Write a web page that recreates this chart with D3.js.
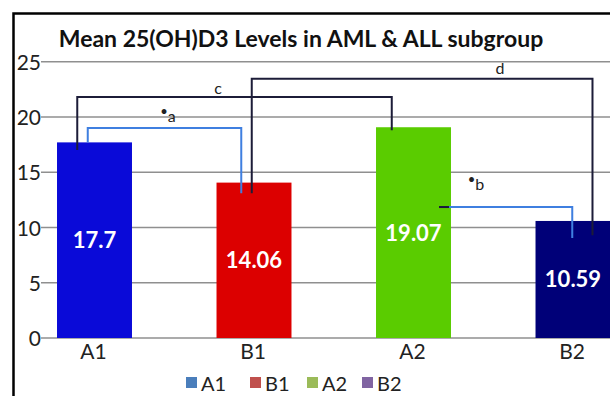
<!DOCTYPE html>
<html><head><meta charset="utf-8">
<script src="https://cdn.jsdelivr.net/npm/d3@7"></script>
<style>
html,body{margin:0;padding:0;background:#fff;}
svg{display:block;}
text{font-family:Lato,"Open Sans",sans-serif;}
</style></head>
<body>
<script>
const title = "Mean 25(OH)D3 Levels in AML & ALL subgroup";
const categories = ["A1","B1","A2","B2"];
const values = [17.7, 14.06, 19.07, 10.59];
const barColors = ["#0a0ad8","#dc0000","#5acc00","#000078"];
const legendColors = ["#4a7ebb","#c0504d","#9bbb59","#8064a2"];
const yTicks = [0,5,10,15,20,25];
// significance brackets: from category (fraction across band, end value) to category, at level
const brFrom   = ["A1","A1","B1","A2"];
const brFromX  = [0.41,0.27,0.47,0.84];
const brFromY  = [17.7,17.0,13.1,11.85];
const brTo     = ["B1","A2","B2","B2"];
const brToX    = [0.33,0.21,0.76,0.49];
const brToY    = [13.1,18.8,9.3,9.05];
const brLevel  = [19.0,21.8,23.45,11.85];
const brLabel  = ["a","c","d","b"];
const brStar   = [true,false,false,true];
const brColor  = ["#3f7fe0","#1c1c38","#1c1c38","#3f7fe0"];

const W=610,H=396;
const svg=d3.select("body").append("svg").attr("width",W).attr("height",H);

const x=d3.scaleBand().domain(categories).range([14.75,652.75]).paddingInner(0.53).paddingOuter(0.265);
const y=d3.scaleLinear().domain([0,25]).range([338,61.7]);

// frame
svg.append("path").attr("d","M13.5,400 V13.5 H620").attr("fill","none").attr("stroke","#000").attr("stroke-width",2.5);

// title
svg.append("text").attr("x",301).attr("y",47).attr("text-anchor","middle")
  .attr("font-size",23).attr("font-weight",700).attr("fill","#111").text(title);

// grid + y axis labels
const yAxis=d3.axisLeft(y).tickValues(yTicks).tickSize(0).tickPadding(2);
const yg=svg.append("g").attr("transform","translate(43,0)").call(yAxis);
yg.select(".domain").remove();
yg.selectAll("text").attr("font-size",21).attr("fill","#222").attr("font-family","Lato,sans-serif").attr("dy","0.36em");
svg.append("g").selectAll("line").data(yTicks).join("line")
  .attr("x1",41).attr("x2",W).attr("y1",d=>y(d)).attr("y2",d=>y(d))
  .attr("stroke","#8f8f8f").attr("stroke-width",1.6);

// bars
svg.append("g").selectAll("rect").data(values).join("rect")
  .attr("x",(d,i)=>x(categories[i])).attr("width",x.bandwidth())
  .attr("y",d=>y(d)).attr("height",d=>y(0)-y(d))
  .attr("fill",(d,i)=>barColors[i]);

// value labels
svg.append("g").selectAll("text").data(values).join("text")
  .attr("x",(d,i)=>x(categories[i])+x.bandwidth()/2)
  .attr("y",d=>y(d/2)).attr("dy","0.36em").attr("text-anchor","middle")
  .attr("font-size",22).attr("font-weight",700).attr("fill","#fff").text(d=>d);

// category axis labels
const xAxis=d3.axisBottom(x).tickSize(0).tickPadding(6);
const xg=svg.append("g").attr("transform",`translate(-1,${y(0)})`).call(xAxis);
xg.select(".domain").remove();
xg.selectAll("text").attr("font-size",21).attr("fill","#222").attr("font-family","Lato,sans-serif");

// brackets
const bg=svg.append("g");
brFrom.forEach((f,i)=>{
  const x1=x(f)+brFromX[i]*x.bandwidth();
  const x2=x(brTo[i])+brToX[i]*x.bandwidth();
  const yl=y(brLevel[i]);
  if(i===3){
    // horizontal starting inside the bar
    bg.append("path").attr("d",`M${x1},${yl} H${x2} V${y(brToY[i])}`)
      .attr("fill","none").attr("stroke",brColor[i]).attr("stroke-width",2);
    bg.append("path").attr("d",`M${x1},${yl} H${x(f)+x.bandwidth()-2}`)
      .attr("fill","none").attr("stroke","#1a1a3a").attr("stroke-width",2);
  } else {
    bg.append("path").attr("d",`M${x1},${y(brFromY[i])} V${yl} H${x2} V${y(brToY[i])}`)
      .attr("fill","none").attr("stroke",brColor[i]).attr("stroke-width",2);
  }
});
// bracket labels
const labPos=[[168,122],[218,94],[500,74],[476,190]];
brLabel.forEach((l,i)=>{
  const t=svg.append("text").attr("x",labPos[i][0]).attr("y",labPos[i][1])
    .attr("text-anchor","middle").attr("font-size",16).attr("fill","#222");
  if(brStar[i]){
    t.append("tspan").attr("font-size",13).attr("dy",-6).text("•");
    t.append("tspan").attr("dy",6).text(l);
  } else t.text(l);
});

// legend
const lg=svg.append("g");
const lx=[186,250,307,362];
categories.forEach((c,i)=>{
  lg.append("rect").attr("x",lx[i]).attr("y",377).attr("width",11).attr("height",11).attr("fill",legendColors[i]);
  lg.append("text").attr("x",lx[i]+15).attr("y",391).attr("font-size",20).attr("fill","#222").text(c);
});
</script>
</body></html>
